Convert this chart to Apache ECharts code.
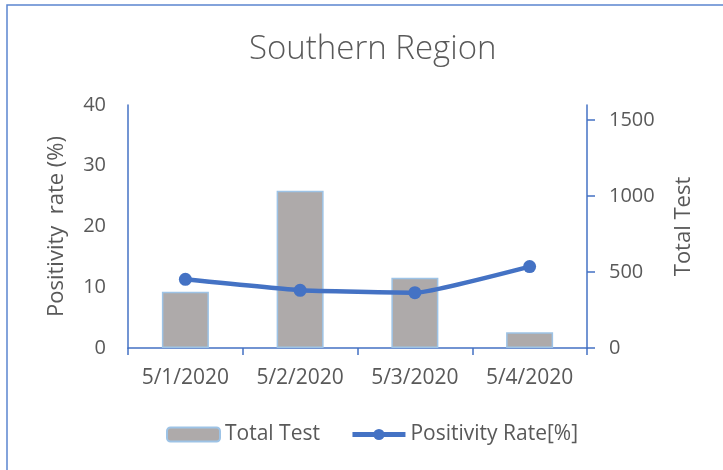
<!DOCTYPE html>
<html>
<head>
<meta charset="utf-8">
<script src="https://cdn.jsdelivr.net/npm/echarts@6/dist/echarts.min.js"></script>
<style>
html, body { margin: 0; padding: 0; background: #fff; }
#container { width: 723px; height: 470px; }
</style>
</head>
<body>
<div id="container"></div>
<script>
var dates = ["5/1/2020", "5/2/2020", "5/3/2020", "5/4/2020"];
var totalTest = [371, 1036, 463, 103];
var positivityRate = [11.3, 9.5, 9.1, 13.4];

var textColor = "#595959";
var fontFamily = "'Open Sans', sans-serif";

var myChart = echarts.init(document.getElementById("container"));
myChart.setOption({
    textStyle: { fontFamily: fontFamily },
    title: {
        text: "Southern Region",
        left: 244,
        top: 28,
        textStyle: { fontSize: 33, fontWeight: 300, color: textColor, fontFamily: fontFamily }
    },
    graphic: [
        {
            type: "rect",
            shape: { x: 7, y: 5, width: 800, height: 600 },
            style: { fill: "none", stroke: "#5B85D0", lineWidth: 1.5 },
            silent: true
        }
    ],
    legend: {
        bottom: 20,
        left: 161,
        itemWidth: 53,
        itemHeight: 14,
        itemGap: 30,
        textStyle: { fontSize: 21, color: textColor },
        data: [
            { name: "Total Test" },
            { name: "Positivity Rate[%]", lineStyle: { width: 5 } }
        ]
    },
    grid: { left: 128, right: 136, top: 105, bottom: 122 },
    xAxis: {
        type: "category",
        data: dates,
        axisLine: { lineStyle: { color: "#4472C4", width: 1.5 } },
        axisTick: { show: true, length: 7, lineStyle: { color: "#4472C4", width: 1.5 } },
        axisLabel: { fontSize: 21, color: textColor, margin: 20 }
    },
    yAxis: [
        {
            type: "value",
            min: 0,
            max: 40,
            interval: 10,
            name: "Positivity  rate (%)",
            nameLocation: "middle",
            nameGap: 60,
            nameTextStyle: { fontSize: 22, color: textColor },
            axisLine: { show: true, lineStyle: { color: "#4472C4", width: 1.5 } },
            axisTick: { show: false },
            splitLine: { show: false },
            axisLabel: { fontSize: 20, color: textColor, margin: 22 }
        },
        {
            type: "value",
            min: 0,
            max: 1600,
            interval: 500,
            position: "right",
            name: "Total Test",
            nameLocation: "middle",
            nameGap: 86,
            nameTextStyle: { fontSize: 22, color: textColor },
            axisLine: { show: true, lineStyle: { color: "#4472C4", width: 1.5 } },
            axisTick: { show: true, length: 8, lineStyle: { color: "#4472C4", width: 1.5 } },
            splitLine: { show: false },
            axisLabel: {
                fontSize: 20,
                color: textColor,
                margin: 22,
                showMaxLabel: false,
                formatter: function (val) {
                    return String(val);
                }
            }
        }
    ],
    series: [
        {
            name: "Total Test",
            type: "bar",
            yAxisIndex: 1,
            barWidth: 47,
            data: totalTest,
            itemStyle: { color: "#AEAAAA", borderColor: "#9DC3E6", borderWidth: 1.5 }
        },
        {
            name: "Positivity Rate[%]",
            type: "line",
            yAxisIndex: 0,
            data: positivityRate,
            smooth: 0.12,
            symbol: "circle",
            symbolSize: 13,
            lineStyle: { color: "#4472C4", width: 4.5 },
            itemStyle: { color: "#4472C4" }
        }
    ]
});
</script>
</body>
</html>
